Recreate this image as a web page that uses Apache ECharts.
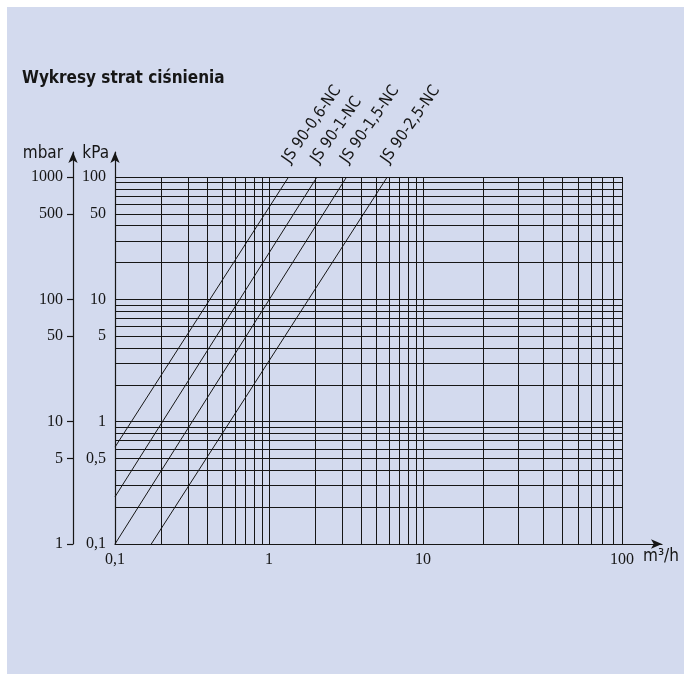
<!DOCTYPE html>
<html>
<head>
<meta charset="utf-8">
<script src="https://cdn.jsdelivr.net/npm/echarts@6/dist/echarts.min.js"></script>
<style>
  html, body { margin: 0; padding: 0; background: #ffffff; }
  #chart { position: absolute; left: 7px; top: 7px; width: 677px; height: 667px; background: #d3daee; }
</style>
</head>
<body>
<div id="chart"></div>
<script>
// przepływ [m3/h] - linie siatki
var flowGrid1 = [0.1, 0.2, 0.3, 0.4, 0.5, 0.6, 0.7, 0.8, 0.9, 1, 2, 3, 4, 5, 6, 7, 8, 9, 10];
var flowGrid2 = [20, 30, 40, 50, 60, 70, 80, 90, 100];
var flowLabels1 = [0.1, 1, 10];
var flowLabels2 = [100];
// spadek ciśnienia [kPa]
var kpaGrid = [0.1, 0.2, 0.3, 0.4, 0.5, 0.6, 0.7, 0.8, 0.9, 1, 2, 3, 4, 5, 6, 7, 8, 9,
  10, 20, 30, 40, 50, 60, 70, 80, 90, 100];
var kpaLabels = [0.1, 0.5, 1, 5, 10, 50, 100];
var mbarLabels = [1, 5, 10, 50, 100, 500, 1000];

// krzywe (przepływ, spadek ciśnienia) - początek i koniec
var curveNames = ['JS 90-0,6-NC', 'JS 90-1-NC', 'JS 90-1,5-NC', 'JS 90-2,5-NC'];
var curveFlow = [[0.1, 1.34], [0.1, 2.05], [0.1, 3.19], [0.172, 5.86]];
var curveLoss = [[0.62, 100], [0.243, 100], [0.1, 100], [0.1, 100]];

var chart = echarts.init(document.getElementById('chart'));

var narrow = "'Liberation Sans Narrow', 'DejaVu Sans Condensed', sans-serif";
var serif = "'Liberation Serif', 'DejaVu Serif', serif";
var ink = '#161616';

function comma(v) {
  return String(+(+v).toPrecision(3)).replace('.', ',');
}

var gridLine = { show: true, lineStyle: { color: ink, width: 1 } };
var top0 = 170, h0 = 367;

var series = curveNames.map(function (name, i) {
  return {
    name: name,
    type: 'line',
    xAxisIndex: 0,
    yAxisIndex: 0,
    symbol: 'circle',
    symbolSize: 1,
    showSymbol: true,
    itemStyle: { color: 'rgba(0,0,0,0)' },
    lineStyle: { color: ink, width: 1 },
    silent: true,
    z: 5,
    data: [
      [curveFlow[i][0], curveLoss[i][0]],
      {
        value: [curveFlow[i][1], curveLoss[i][1]],
        label: {
          show: true,
          formatter: name,
          rotate: 55,
          position: [-2, -15],
          align: 'left',
          verticalAlign: 'middle',
          color: ink,
          fontFamily: narrow,
          fontSize: 16
        }
      }
    ]
  };
});

var option = {
  animation: false,
  title: {
    text: 'Wykresy strat ciśnienia',
    left: 15,
    top: 63,
    padding: 0,
    textStyle: { fontFamily: narrow, fontWeight: 'bold', fontSize: 17, color: ink }
  },
  grid: [
    { left: 108, top: top0, width: 308, height: h0 },
    { left: 416, top: top0, width: 199, height: h0 },
    { left: 615, top: top0, width: 40, height: h0 },
    { left: 108, top: 145, width: 10, height: 25 }
  ],
  xAxis: [
    {
      gridIndex: 0, type: 'log', logBase: 10, min: 0.1, max: 10,
      axisLine: { show: true, onZero: false, lineStyle: { color: ink, width: 1.2 } },
      axisTick: { show: false, customValues: flowGrid1 },
      axisLabel: { customValues: flowLabels1, formatter: comma, color: ink, fontFamily: serif, fontSize: 16, margin: 8 },
      splitLine: gridLine
    },
    {
      gridIndex: 1, type: 'log', logBase: 10, min: 10, max: 100,
      axisLine: { show: true, onZero: false, lineStyle: { color: ink, width: 1.2 } },
      axisTick: { show: false, customValues: flowGrid2 },
      axisLabel: { customValues: flowLabels2, formatter: comma, color: ink, fontFamily: serif, fontSize: 16, margin: 8 },
      splitLine: gridLine
    },
    {
      gridIndex: 2, type: 'value', min: 0, max: 1,
      axisLine: { show: true, onZero: false, symbol: ['none', 'arrow'], symbolSize: [7, 11], lineStyle: { color: ink, width: 1.2 } },
      axisTick: { show: false }, axisLabel: { show: false }, splitLine: { show: false },
      name: 'm³/h', nameLocation: 'end', nameGap: -19,
      nameTextStyle: { fontFamily: narrow, fontSize: 17, color: ink, align: 'left', verticalAlign: 'top', padding: [4, 0, 0, 0] }
    },
    { gridIndex: 3, type: 'value', show: false }
  ],
  yAxis: [
    {
      gridIndex: 0, type: 'log', logBase: 10, min: 0.1, max: 100, position: 'left',
      axisLine: { show: true, onZero: false, lineStyle: { color: ink, width: 1.2 } },
      axisTick: { show: false, customValues: kpaGrid },
      axisLabel: { customValues: kpaLabels, formatter: comma, color: ink, fontFamily: serif, fontSize: 16, margin: 9 },
      splitLine: gridLine
    },
    {
      gridIndex: 0, type: 'log', logBase: 10, min: 1, max: 1000, position: 'left', offset: 42,
      axisLine: { show: true, onZero: false, lineStyle: { color: ink, width: 1.2 } },
      axisTick: { show: true, customValues: mbarLabels, length: 6, lineStyle: { color: ink, width: 1.2 } },
      axisLabel: {
        customValues: mbarLabels, color: ink, fontFamily: serif, fontSize: 16, margin: 10,
        formatter: function (v) { return String(Math.round(v)); }
      },
      splitLine: { show: false }
    },
    {
      gridIndex: 1, type: 'log', logBase: 10, min: 0.1, max: 100,
      axisLine: { show: false }, axisTick: { show: false, customValues: kpaGrid },
      axisLabel: { show: false }, splitLine: gridLine
    },
    { gridIndex: 2, type: 'value', show: false },
    {
      gridIndex: 3, type: 'value', min: 0, max: 1, position: 'left',
      axisLine: { show: true, onZero: false, symbol: ['none', 'arrow'], symbolSize: [7, 11], lineStyle: { color: ink, width: 1.2 } },
      axisTick: { show: false }, axisLabel: { show: false }, splitLine: { show: false },
      name: 'kPa', nameLocation: 'end', nameGap: -2,
      nameTextStyle: { fontFamily: narrow, fontSize: 17, color: ink, align: 'right', verticalAlign: 'middle', padding: [0, 6, 0, 0] }
    },
    {
      gridIndex: 3, type: 'value', min: 0, max: 1, position: 'left', offset: 42,
      axisLine: { show: true, onZero: false, symbol: ['none', 'arrow'], symbolSize: [7, 11], lineStyle: { color: ink, width: 1.2 } },
      axisTick: { show: false }, axisLabel: { show: false }, splitLine: { show: false },
      name: 'mbar', nameLocation: 'end', nameGap: -2,
      nameTextStyle: { fontFamily: narrow, fontSize: 17, color: ink, align: 'right', verticalAlign: 'middle', padding: [0, 10, 0, 0] }
    }
  ],
  series: series
};

chart.setOption(option);
</script>
</body>
</html>
